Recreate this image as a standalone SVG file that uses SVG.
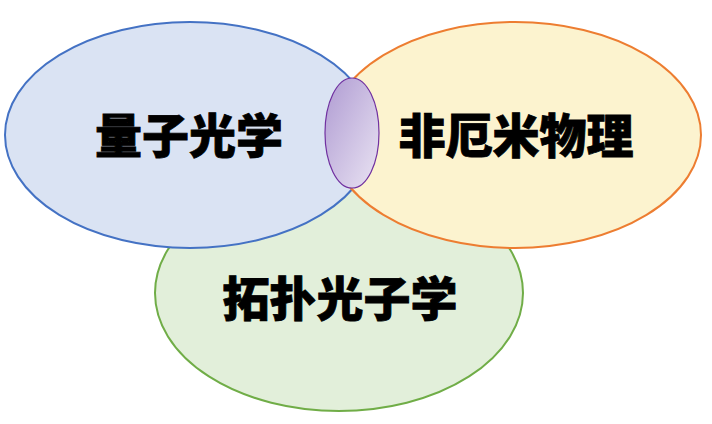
<svg xmlns="http://www.w3.org/2000/svg" width="712" height="424" viewBox="0 0 712 424">
<defs>
<linearGradient id="pg" x1="0" y1="0" x2="1" y2="1">
<stop offset="0" stop-color="#AF9BD2"/>
<stop offset="1" stop-color="#EAE4F3"/>
</linearGradient>
<style>
.lbl{font-family:"Noto Sans CJK SC","Noto Sans CJK JP",sans-serif;font-weight:900;font-size:47px;fill:#000;stroke:#000;stroke-width:0.8;text-anchor:middle;dominant-baseline:central}
</style>
</defs>
<rect width="712" height="424" fill="#fff"/>
<g id="topo">
<ellipse cx="339" cy="293" rx="184" ry="118" fill="#E2EFDA" stroke="#70AD47" stroke-width="2"/>
</g>
<g id="quantum">
<ellipse cx="190" cy="135" rx="185" ry="113" fill="#DAE3F3" stroke="#4472C4" stroke-width="2"/>
</g>
<g id="nonherm">
<ellipse cx="515" cy="135" rx="186" ry="113" fill="#FCF3CF" stroke="#ED7D31" stroke-width="2"/>
</g>
<g id="overlap">
<ellipse cx="352" cy="133" rx="27" ry="55" fill="url(#pg)" stroke="#7030A0" stroke-width="1.2"/>
</g>
<g id="connectors"></g>
<g id="labels">
<text class="lbl" x="189" y="132">量子光学</text>
<text class="lbl" x="516" y="132">非厄米物理</text>
<text class="lbl" x="340" y="295">拓扑光子学</text>
</g>
</svg>
